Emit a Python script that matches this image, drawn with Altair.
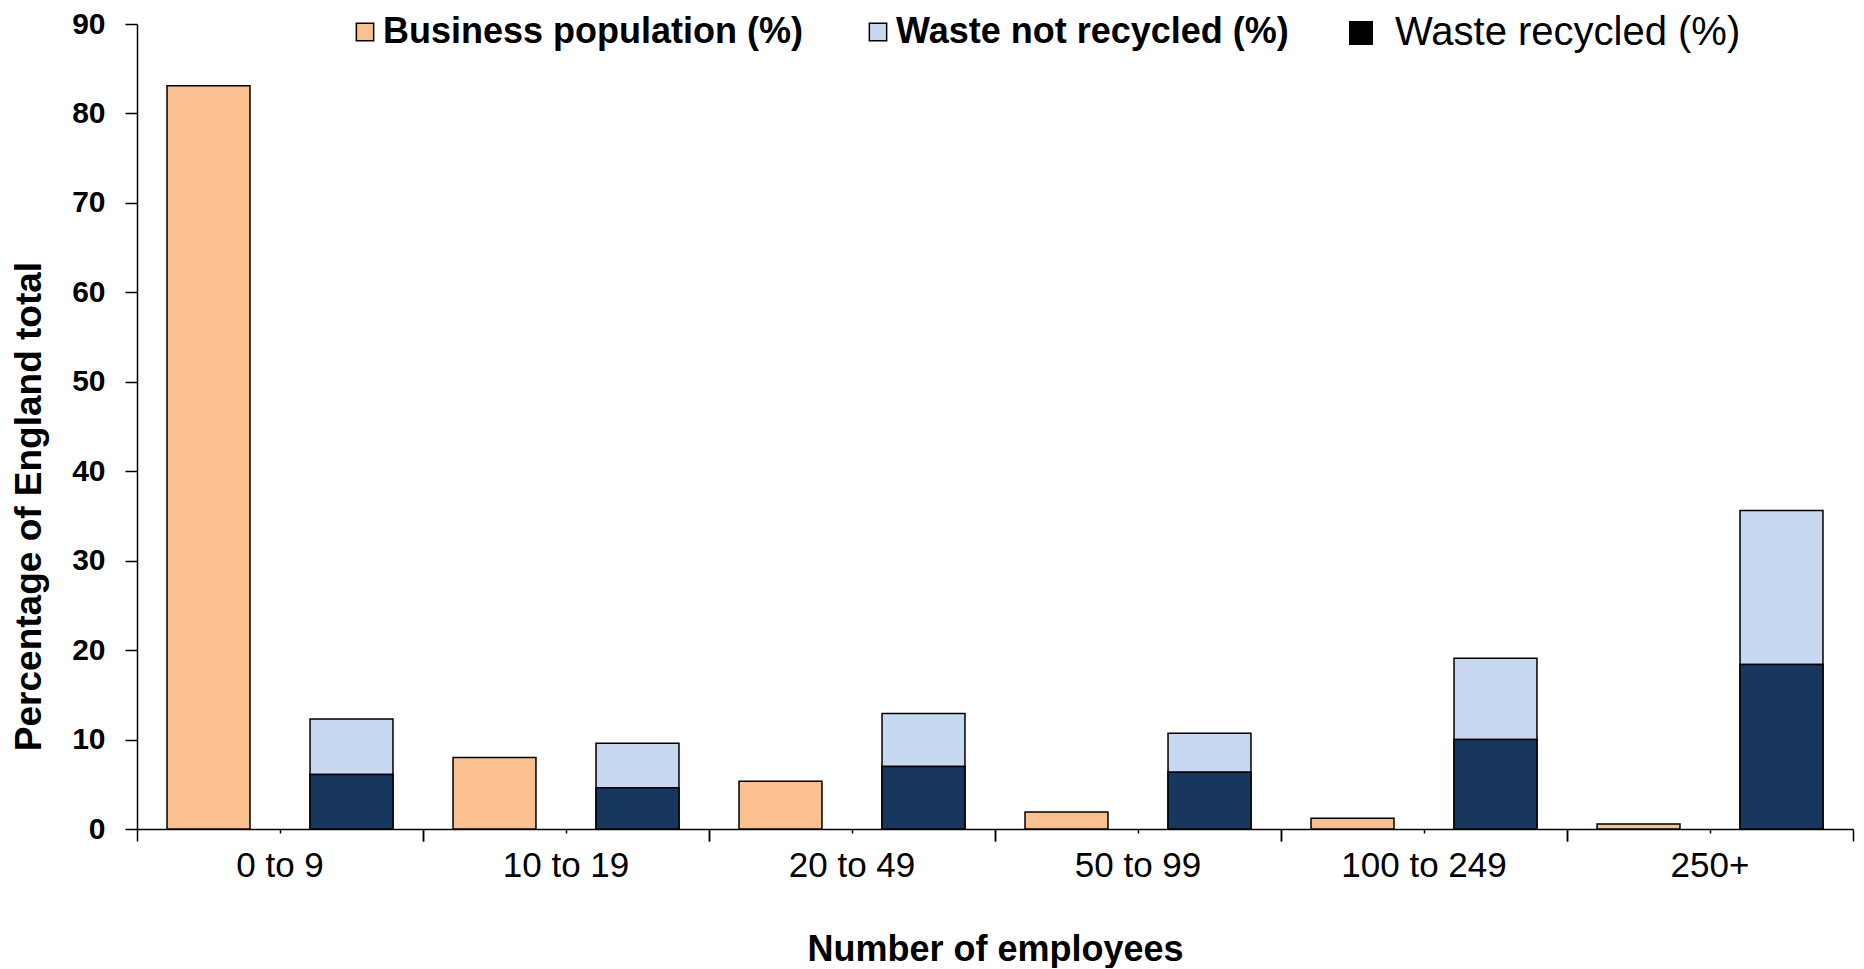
import altair as alt
import pandas as pd

categories = ["0 to 9", "10 to 19", "20 to 49", "50 to 99", "100 to 249", "250+"]
business_population = [83.1, 8.0, 5.35, 1.9, 1.2, 0.55]
waste_recycled = [6.1, 4.6, 7.0, 6.35, 10.0, 18.4]
waste_not_recycled = [6.2, 5.0, 5.9, 4.35, 9.1, 17.2]

S_POP = "Business population (%)"
S_NOT = "Waste not recycled (%)"
S_REC = "Waste recycled (%)"
series_names = [S_POP, S_NOT, S_REC]
series_colors = ["#FAC090", "#C6D9F1", "#17375E"]

rows = []
for i, c in enumerate(categories):
    rows.append(dict(cat=c, grp="pop", series=S_POP, value=business_population[i], order=0))
    rows.append(dict(cat=c, grp="waste", series=S_REC, value=waste_recycled[i], order=1))
    rows.append(dict(cat=c, grp="waste", series=S_NOT, value=waste_not_recycled[i], order=2))
df = pd.DataFrame(rows)
rec_df = df[df.series == S_REC].assign(series2=S_REC)

FONT = "Liberation Sans"

xscale = alt.Scale(domain=categories, paddingInner=0, paddingOuter=0)
xoffscale = alt.Scale(domain=["pop", "waste"], paddingInner=0.42, paddingOuter=0.21)
yscale = alt.Scale(domain=[0, 90], nice=False)

yaxis = alt.Axis(
    values=list(range(0, 91, 10)), title="Percentage of England total",
    titleFont=FONT, titleFontSize=37, titleFontWeight="bold", titleColor="black",
    titleX=-108, titleY=482, titleAngle=270, titleAlign="center", titleBaseline="middle",
    labelFont=FONT, labelFontSize=30, labelFontWeight="bold", labelColor="black",
    labelPadding=20, tickSize=12, tickColor="black", tickWidth=1.5,
    domainColor="black", domainWidth=1.5, grid=False,
)

ax_main = alt.Axis(
    orient="bottom", title="Number of employees", bandPosition=0.5, labelAngle=0,
    labelFont=FONT, labelFontSize=35, labelColor="black", labelPadding=15,
    tickSize=4, tickColor="black", tickWidth=1.5, domainColor="black", domainWidth=1.5,
    titleFont=FONT, titleFontSize=36, titleFontWeight="bold", titleColor="black",
    titleY=120, titleBaseline="middle", grid=False,
)
ax_start = alt.Axis(orient="bottom", title=None, bandPosition=0, labels=False,
                    tickSize=12, tickColor="black", tickWidth=1.5, domain=False, grid=False)
ax_end = alt.Axis(orient="bottom", title=None, bandPosition=1, labels=False,
                  tickSize=12, tickColor="black", tickWidth=1.5, domain=False, grid=False)

bars = alt.Chart(df).mark_bar(stroke="black", strokeWidth=1.5).encode(
    x=alt.X("cat:N", sort=categories, scale=xscale, axis=ax_main),
    xOffset=alt.XOffset("grp:N", scale=xoffscale),
    y=alt.Y("value:Q", scale=yscale, axis=yaxis, stack="zero"),
    color=alt.Color(
        "series:N",
        scale=alt.Scale(domain=series_names, range=series_colors),
        legend=alt.Legend(
            values=[S_POP, S_NOT], orient="none", legendX=210, legendY=-10,
            direction="horizontal", title=None, symbolType="square", symbolSize=300,
            symbolStrokeColor="black", symbolStrokeWidth=1.5, symbolOpacity=1,
            labelFont=FONT, labelFontSize=36, labelFontWeight="bold", labelColor="black",
            labelOffset=0, labelLimit=0, columnPadding=56, padding=0,
        ),
    ),
    order=alt.Order("order:Q"),
)

# zero-height marks that only carry the "Waste recycled" legend entry
rec_legend = alt.Chart(rec_df).mark_bar(fill="black", strokeWidth=0).encode(
    x=alt.X("cat:N", sort=categories, scale=xscale, axis=ax_start),
    xOffset=alt.XOffset("grp:N", scale=xoffscale),
    y=alt.Y("value:Q", scale=yscale, axis=yaxis, stack=None),
    y2=alt.Y2("value:Q"),
    opacity=alt.Opacity(
        "series2:N",
        scale=alt.Scale(domain=[S_REC], range=[1]),
        legend=alt.Legend(
            orient="none", legendX=1204, legendY=-11, title=None, symbolType="square",
            symbolSize=576, symbolFillColor="black", symbolStrokeWidth=0,
            labelFont=FONT, labelFontSize=40, labelFontWeight="normal",
            labelColor="black", labelOffset=14, labelLimit=0, padding=0,
        ),
    ),
)

rec_end = alt.Chart(rec_df).mark_bar(fill="#17375E", stroke="black", strokeWidth=1.5).encode(
    x=alt.X("cat:N", sort=categories, scale=xscale, axis=ax_end),
    xOffset=alt.XOffset("grp:N", scale=xoffscale),
    y=alt.Y("value:Q", scale=yscale, axis=yaxis, stack=None),
)

chart = alt.layer(bars, rec_legend, rec_end).resolve_axis(x="independent").properties(
    width=1716, height=805,
    autosize=alt.AutoSizeParams(type="none"),
    padding={"left": 129, "top": 16, "right": 3, "bottom": 139},
    background="white",
).configure_view(stroke=None)

chart.save("out.html", embed_options={"renderer": "svg", "actions": False})
